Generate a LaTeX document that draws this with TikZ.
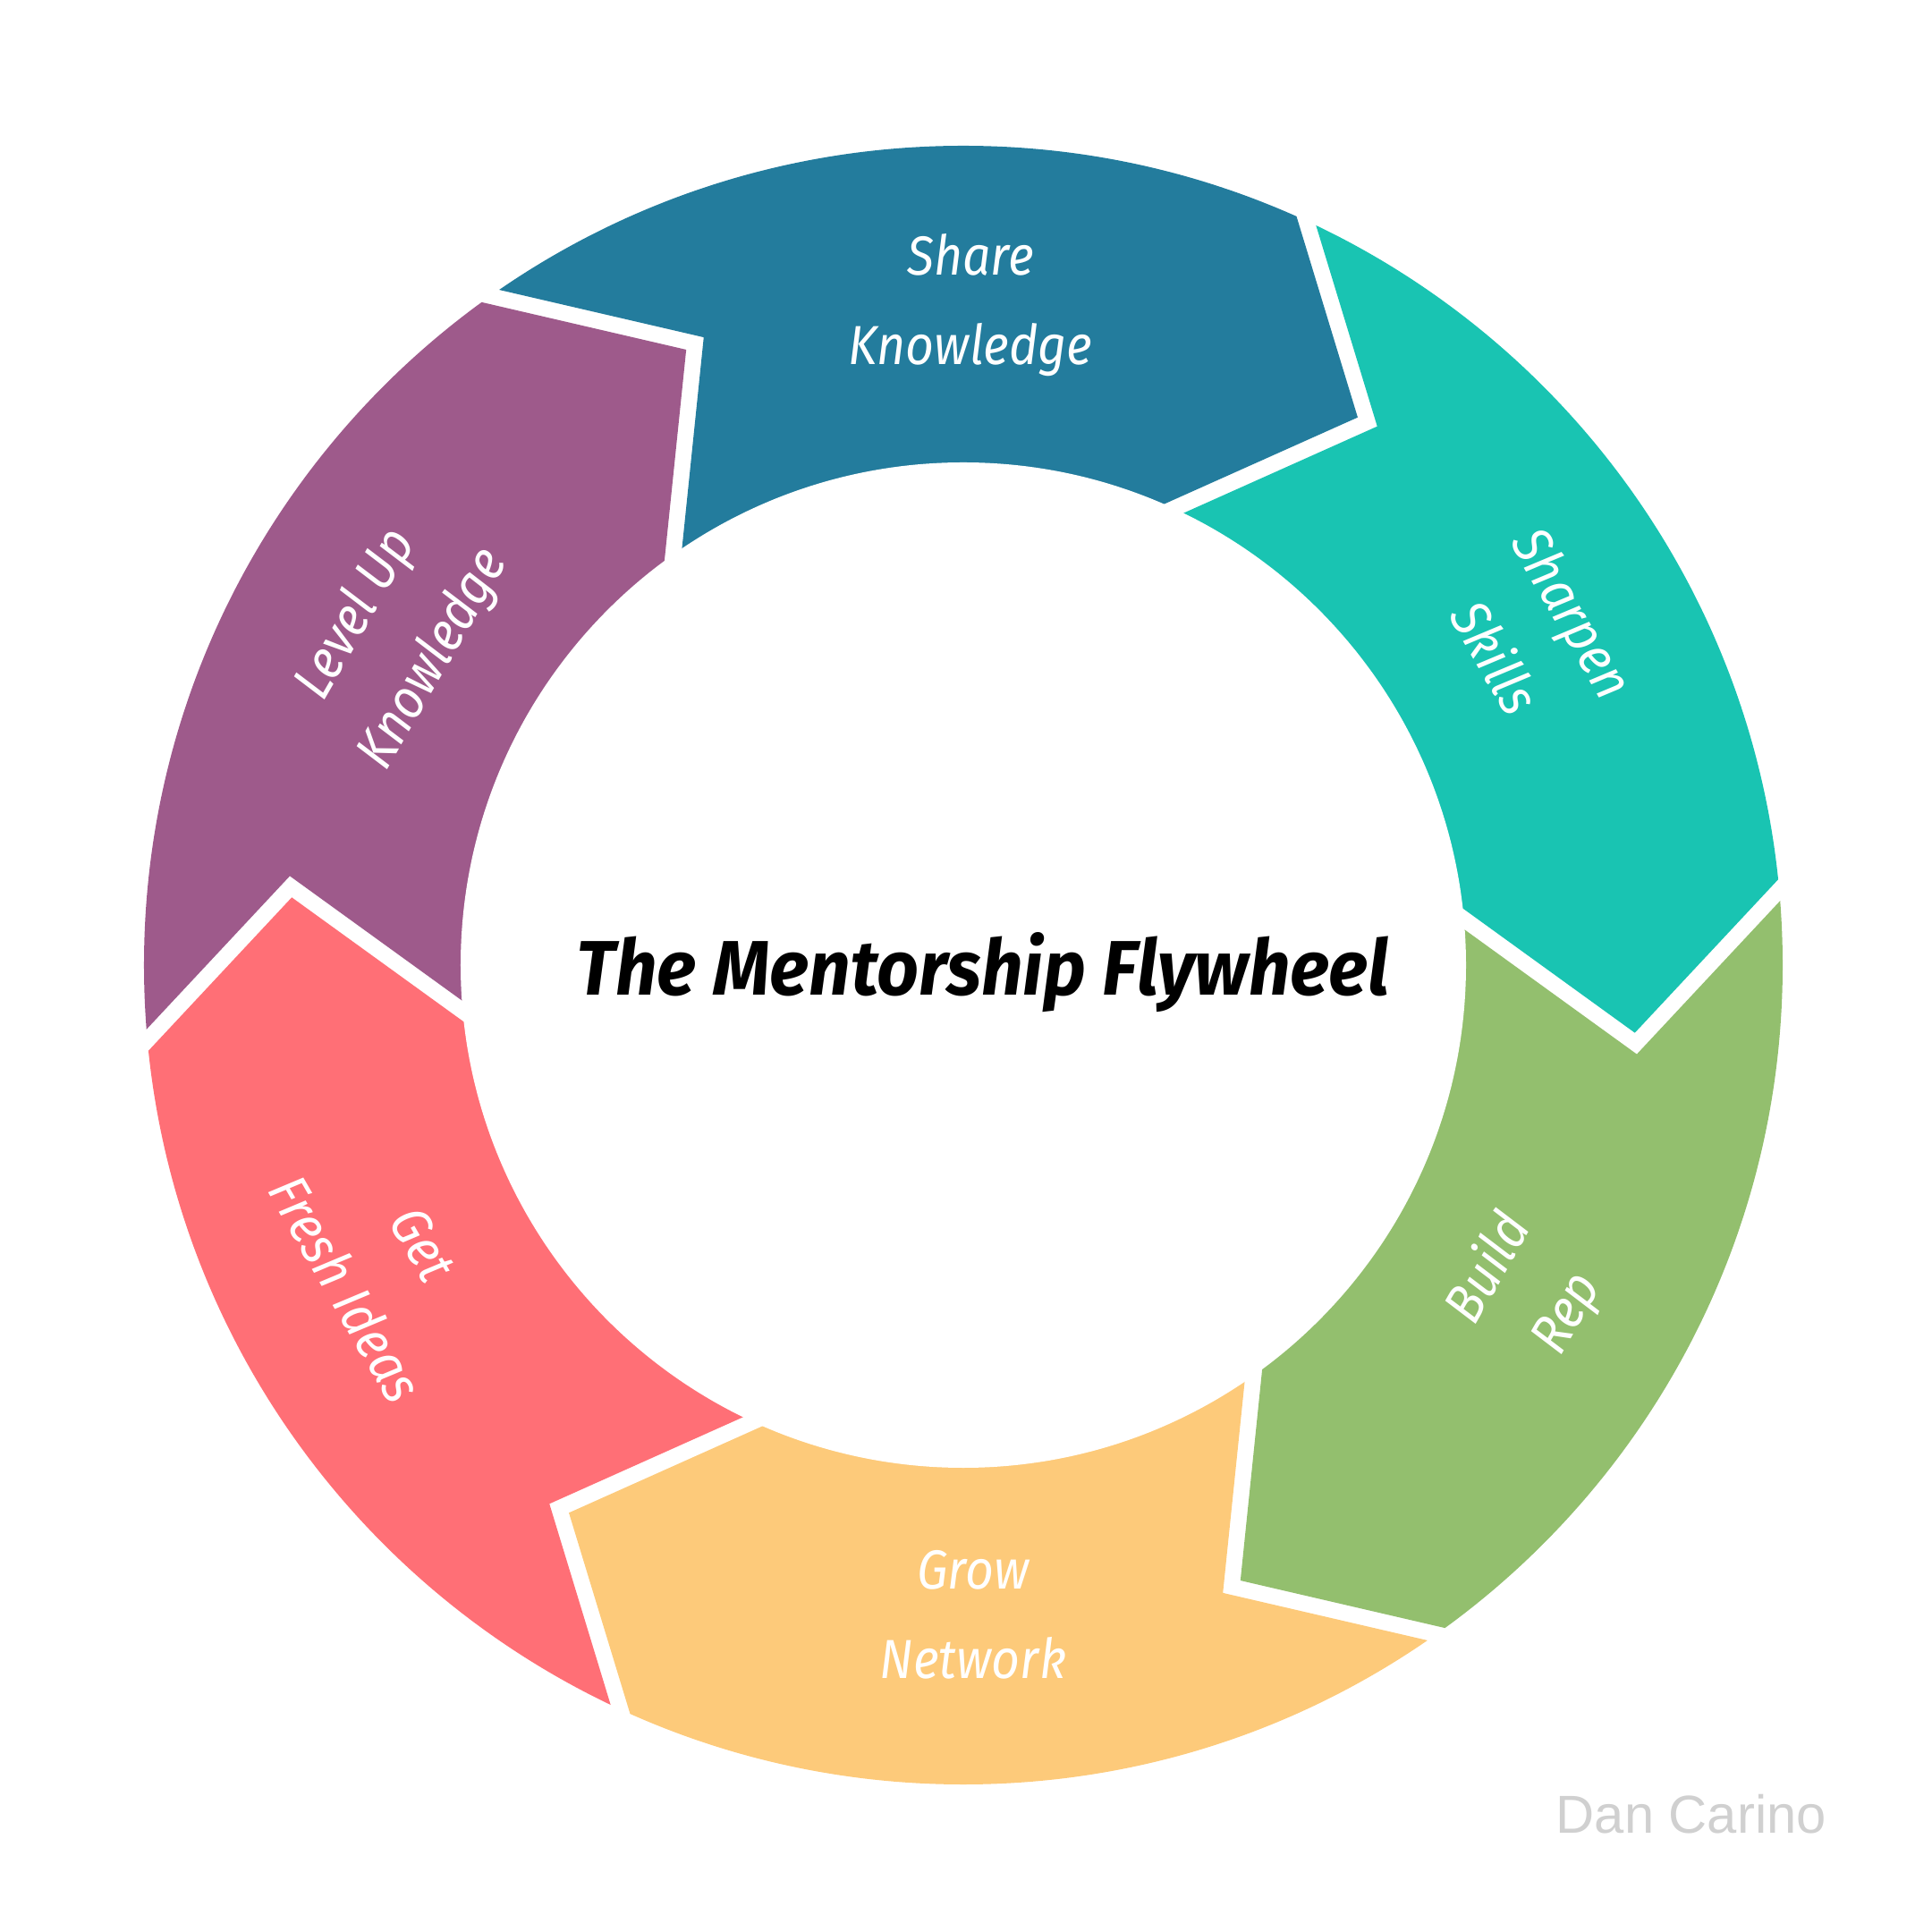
\documentclass[tikz,border=0pt]{standalone}
\usepackage{graphicx}
\usepackage{fontspec}
\setmainfont{Fira Sans}
\newfontfamily\wmfont{Liberation Sans}
\usetikzlibrary{calc}
\definecolor{cblue}{HTML}{237C9D}
\definecolor{cteal}{HTML}{19C4B2}
\definecolor{cgreen}{HTML}{93BF6E}
\definecolor{cyellow}{HTML}{FDCA7A}
\definecolor{cred}{HTML}{FF6F76}
\definecolor{cpurple}{HTML}{9E5A8B}
\definecolor{cwm}{HTML}{D0D0D0}
\begin{document}
\begin{tikzpicture}[
  seglabel/.style={text=white, font=\fontsize{17.5}{28.5}\selectfont\itshape, align=center, inner sep=0pt},
  titlelabel/.style={text=black, inner sep=0pt, anchor=base},
  wmlabel/.style={text=cwm, inner sep=0pt, anchor=base west, font=\wmfont\fontsize{17}{20}\selectfont}
]
\useasboundingbox (-10.77,-10.81) rectangle (10.83,10.79);
\def\Ro{9.16}
\def\Ri{5.62}
\def\Rm{7.57}
\def\dl{11.9}
\def\gp{0.12}
\begin{scope}
\clip (0,0) circle (\Ro);
\foreach \a/\c in {125.25/cblue,65.25/cteal,5.25/cgreen,-54.75/cyellow,-114.75/cred,-174.75/cpurple}{
  \pgfmathsetmacro\b{\a-60}
  \coordinate (tT) at ($(\a-\dl:\Rm)+(\a-90:\gp)$);
  \coordinate (tO) at ($(\a-\dl:\Rm)!2.5!(\a:\Ro)+(\a-90:\gp)$);
  \coordinate (tI) at ($(\a-\dl:\Rm)!1.8!(\a:\Ri)+(\a-90:\gp)$);
  \coordinate (hT) at ($(\b-\dl:\Rm)+(\b+90:\gp)$);
  \coordinate (hO) at ($(\b-\dl:\Rm)!2.5!(\b:\Ro)+(\b+90:\gp)$);
  \coordinate (hI) at ($(\b-\dl:\Rm)!1.8!(\b:\Ri)+(\b+90:\gp)$);
  \fill[fill=\c] (tO) -- (tT) -- (tI) -- (hI) -- (hT) -- (hO) -- cycle;
}
\end{scope}
\fill[white] (0,0) circle (\Ri);

\node[seglabel, xscale=0.9] (l1) at (0.08,7.38) {Share\\Knowledge};
\node[seglabel, rotate=-60, xscale=0.9] (l2) at (30:7.38) {Sharpen\\Skills};
\node[seglabel, rotate=60, xscale=0.9] (l3) at (-30:7.3) {Build\\Rep};
\node[seglabel, xscale=0.9] (l4) at (0.11,-7.26) {Grow\\Network};
\node[seglabel, rotate=-60, xscale=0.9] (l5) at (207.5:7.3) {Get\\Fresh Ideas};
\node[seglabel, rotate=60, xscale=0.9] (l6) at (150:7.33) {Level Up\\Knowledge};

\node[titlelabel] (title) at (0.22,-0.34) {\resizebox{9.08cm}{0.70cm}{\bfseries\itshape The Mentorship Flywheel}};
\node[wmlabel] (wm) at (6.62,-9.70) {Dan Carino};
\end{tikzpicture}
\end{document}
